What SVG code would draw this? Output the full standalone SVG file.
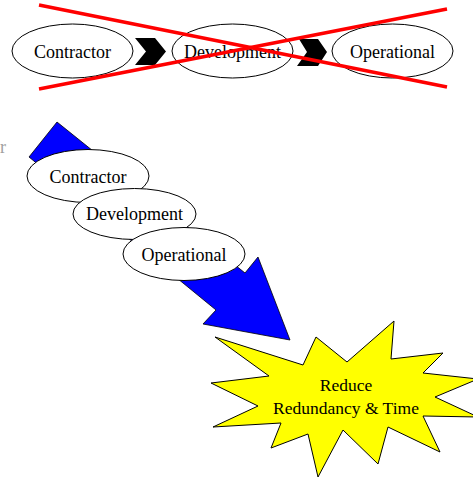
<svg xmlns="http://www.w3.org/2000/svg" width="473" height="478" viewBox="0 0 473 478">
<style>
.node ellipse{fill:#fff;stroke:#000;stroke-width:1}
.lbl{font-family:"Liberation Serif","Times New Roman",serif;font-size:18px;fill:#000;text-anchor:middle}
.chev{fill:#000}
.cross{stroke:#ff0000;stroke-width:3.5;stroke-linecap:butt}
</style>
<rect width="473" height="478" fill="#fff"/>
<text x="0" y="153" style="font-family:'Liberation Serif',serif;font-size:18px;fill:#a0a0a0">r</text>
<g id="connectors">
<polygon class="chev" points="135,38 155,38 166,51.5 155,65 135,65 146,51.5"/>
<polygon class="chev" points="299,39 318,39 327,52 318,66 297,66 307,52"/>
<polygon id="blue-arrow" points="57,122 245,273 258,257 290,340 203,324 216,310 29,157" fill="#0000ff" stroke="#000" stroke-width="0.8"/>
</g>
<g id="top-contractor" class="node"><ellipse cx="72.5" cy="51" rx="60.5" ry="27"/><text class="lbl" x="72.5" y="58">Contractor</text></g>
<g id="top-development" class="node"><ellipse cx="232.5" cy="51" rx="60.5" ry="27"/><text class="lbl" x="232.5" y="58">Development</text></g>
<g id="top-operational" class="node"><ellipse cx="392.5" cy="51" rx="60.5" ry="27"/><text class="lbl" x="392.5" y="58">Operational</text></g>
<g id="cross-out">
<line class="cross" x1="39" y1="5" x2="447" y2="87"/>
<line class="cross" x1="39" y1="89" x2="447" y2="9"/>
</g>
<g id="contractor" class="node"><ellipse cx="88" cy="176" rx="61" ry="26.5"/><text class="lbl" x="88" y="183">Contractor</text></g>
<g id="development" class="node"><ellipse cx="134.5" cy="214" rx="61.5" ry="25.5"/><text class="lbl" x="134.5" y="220">Development</text></g>
<g id="operational" class="node"><ellipse cx="184" cy="254" rx="61" ry="26.5"/><text class="lbl" x="184" y="261">Operational</text></g>
<g id="reduce">
<polygon points="215,337 303,365 316,337 347,362 394,321 391,359 443,353 423,373 478,379 435,397 478,417 423,416 440,452 388,427 378,464 343,430 318,477 308,434 271,448 281,423 213,427 258,406 211,383 269,376" fill="#ffff00" stroke="#000" stroke-width="1"/>
<text class="lbl" style="font-size:17.5px" x="346" y="391">Reduce</text>
<text class="lbl" style="font-size:17.5px" x="346" y="414">Redundancy &amp; Time</text>
</g>
</svg>
